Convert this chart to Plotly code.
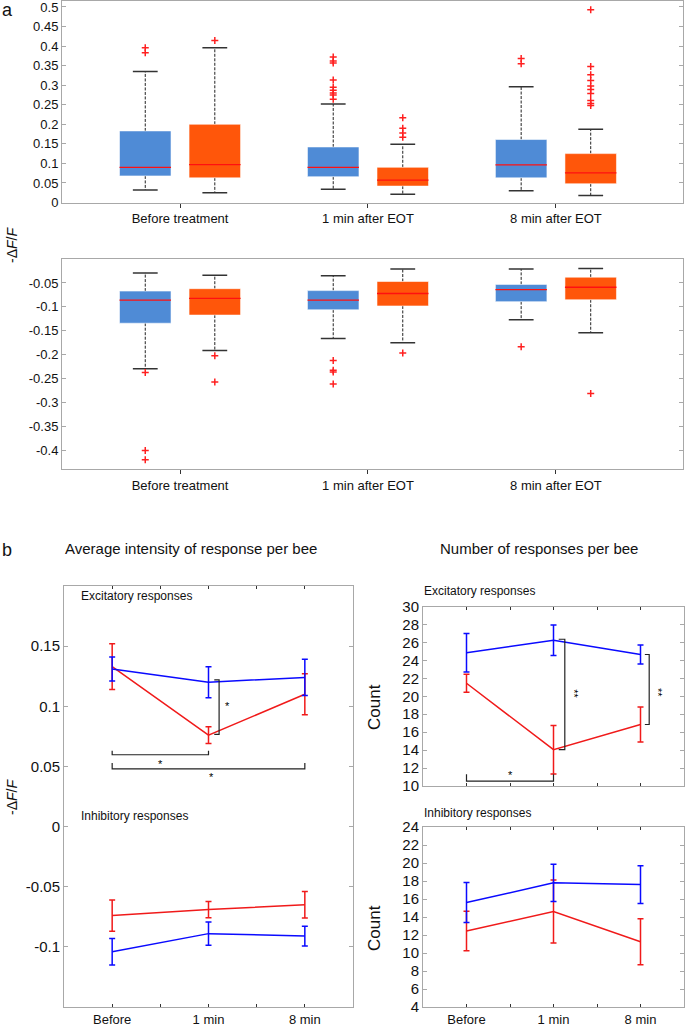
import plotly.graph_objects as go

W, H = 685, 1026

# ---------------- data: panel a (box plots) ----------------
categories_a = ["Before treatment", "1 min after EOT", "8 min after EOT"]

# excitatory (upper box panel)
exc_blue_low = [0.032, 0.034, 0.030]
exc_blue_q1 = [0.068, 0.066, 0.063]
exc_blue_med = [0.090, 0.090, 0.096]
exc_blue_q3 = [0.183, 0.142, 0.161]
exc_blue_up = [0.335, 0.252, 0.296]
exc_blue_out = [[0.396, 0.383],
                [0.372, 0.362, 0.357, 0.313, 0.295, 0.287, 0.280, 0.275, 0.264],
                [0.368, 0.355]]

exc_orng_low = [0.025, 0.021, 0.018]
exc_orng_q1 = [0.063, 0.042, 0.048]
exc_orng_med = [0.097, 0.057, 0.076]
exc_orng_q3 = [0.200, 0.090, 0.125]
exc_orng_up = [0.396, 0.149, 0.187]
exc_orng_out = [[0.414],
                [0.217, 0.190, 0.178, 0.167],
                [0.493, 0.348, 0.327, 0.312, 0.298, 0.289, 0.279, 0.261, 0.253, 0.248]]

# inhibitory (lower box panel)
inh_blue_low = [-0.229, -0.166, -0.127]
inh_blue_q1 = [-0.134, -0.106, -0.089]
inh_blue_med = [-0.086, -0.086, -0.064]
inh_blue_q3 = [-0.067, -0.066, -0.053]
inh_blue_up = [-0.029, -0.035, -0.021]
inh_blue_out = [[-0.237, -0.400, -0.419],
                [-0.212, -0.232, -0.236, -0.261],
                [-0.183]]

inh_orng_low = [-0.191, -0.175, -0.154]
inh_orng_q1 = [-0.117, -0.098, -0.085]
inh_orng_med = [-0.082, -0.072, -0.059]
inh_orng_q3 = [-0.062, -0.047, -0.038]
inh_orng_up = [-0.034, -0.021, -0.020]
inh_orng_out = [[-0.202, -0.257],
                [-0.196],
                [-0.281]]

# ---------------- data: panel b ----------------
time_labels = ["Before", "1 min", "8 min"]

int_exc_blue = [0.131, 0.120, 0.124]
int_exc_blue_err = [0.010, 0.0128, 0.015]
int_exc_red = [0.133, 0.076, 0.110]
int_exc_red_err = [0.019, 0.007, 0.017]
int_inh_blue = [-0.104, -0.089, -0.091]
int_inh_blue_err = [0.011, 0.0097, 0.0082]
int_inh_red = [-0.074, -0.069, -0.065]
int_inh_red_err = [0.013, 0.0068, 0.011]

cnt_exc_blue = [24.85, 26.25, 24.65]
cnt_exc_blue_err = [2.15, 1.7, 1.05]
cnt_exc_red = [21.45, 14.05, 16.85]
cnt_exc_red_err = [1.0, 2.7, 1.95]
cnt_inh_blue = [15.6, 17.8, 17.6]
cnt_inh_blue_err = [2.22, 2.07, 2.1]
cnt_inh_red = [12.45, 14.6, 11.25]
cnt_inh_red_err = [2.2, 3.5, 2.55]

# significance brackets (x, y in data units of their panels)
brk_int = [([2.06, 2.11, 2.11, 2.06], [0.122, 0.122, 0.0767, 0.0767]),
           ([1, 1, 2, 2], [0.063, 0.0597, 0.0597, 0.063]),
           ([1, 1, 3, 3], [0.0528, 0.048, 0.048, 0.0528])]
star_int = [(2.2, 0.1), (1.5, 0.052), (2.03, 0.041)]
brk_cnt = [([2.06, 2.13, 2.13, 2.06], [26.35, 26.35, 14.05, 14.05]),
           ([3.05, 3.1, 3.1, 3.05], [24.65, 24.65, 16.85, 16.85]),
           ([1, 1, 2, 2], [11.3, 10.55, 10.55, 11.3])]
star_cnt = [(2.24, 20.3, "**", 90), (3.21, 20.4, "**", 90), (1.5, 11.25, "*", 0)]

# ---------------- styles ----------------
BLUE_BOX = "#4f8bd6"
ORNG_BOX = "#ff560a"
LINE_BLUE = "#0a0aff"
LINE_RED = "#f01a1a"
AXC = "#a8a8a8"
FONT = "Liberation Sans, Arial, sans-serif"

fig = go.Figure()


def add_boxes(xa, ya, offs, low, q1, med, q3, up, outs, color):
    hw = 0.137
    cw = 0.066
    for i in range(len(med)):
        xc = i + 1 + offs
        # whiskers (dashed)
        fig.add_trace(go.Scatter(x=[xc, xc, None, xc, xc], y=[q3[i], up[i], None, q1[i], low[i]],
                                 mode="lines", line=dict(color="#222", width=1, dash="3px,1.5px"),
                                 xaxis=xa, yaxis=ya, hoverinfo="skip", showlegend=False))
        # caps
        fig.add_trace(go.Scatter(x=[xc - cw, xc + cw, None, xc - cw, xc + cw],
                                 y=[up[i], up[i], None, low[i], low[i]],
                                 mode="lines", line=dict(color="#333", width=1.5),
                                 xaxis=xa, yaxis=ya, hoverinfo="skip", showlegend=False))
        # box
        fig.add_trace(go.Scatter(x=[xc - hw, xc + hw, xc + hw, xc - hw, xc - hw],
                                 y=[q1[i], q1[i], q3[i], q3[i], q1[i]],
                                 mode="lines", fill="toself", fillcolor=color,
                                 line=dict(color="rgba(255,255,255,0.55)", width=1),
                                 xaxis=xa, yaxis=ya, hoverinfo="skip", showlegend=False))
        # median
        fig.add_trace(go.Scatter(x=[xc - hw, xc + hw], y=[med[i], med[i]],
                                 mode="lines", line=dict(color="#ff1010", width=1.3),
                                 xaxis=xa, yaxis=ya, hoverinfo="skip", showlegend=False))
        # outliers
        if outs[i]:
            fig.add_trace(go.Scatter(x=[xc] * len(outs[i]), y=outs[i], mode="markers",
                                     marker=dict(symbol="cross-thin", size=5,
                                                 line=dict(color="#ff2020", width=1.5)),
                                     xaxis=xa, yaxis=ya, hoverinfo="skip", showlegend=False))


add_boxes("x", "y", -0.185, exc_blue_low, exc_blue_q1, exc_blue_med, exc_blue_q3, exc_blue_up, exc_blue_out, BLUE_BOX)
add_boxes("x", "y", 0.185, exc_orng_low, exc_orng_q1, exc_orng_med, exc_orng_q3, exc_orng_up, exc_orng_out, ORNG_BOX)
add_boxes("x2", "y2", -0.185, inh_blue_low, inh_blue_q1, inh_blue_med, inh_blue_q3, inh_blue_up, inh_blue_out, BLUE_BOX)
add_boxes("x2", "y2", 0.185, inh_orng_low, inh_orng_q1, inh_orng_med, inh_orng_q3, inh_orng_up, inh_orng_out, ORNG_BOX)


def add_line(xa, ya, vals, errs, color):
    fig.add_trace(go.Scatter(x=[1, 2, 3], y=vals, mode="lines",
                             line=dict(color=color, width=1.5),
                             error_y=dict(type="data", array=errs, color=color, thickness=1.5, width=3),
                             xaxis=xa, yaxis=ya, hoverinfo="skip", showlegend=False))


add_line("x3", "y3", int_exc_red, int_exc_red_err, LINE_RED)
add_line("x3", "y3", int_exc_blue, int_exc_blue_err, LINE_BLUE)
add_line("x3", "y3", int_inh_red, int_inh_red_err, LINE_RED)
add_line("x3", "y3", int_inh_blue, int_inh_blue_err, LINE_BLUE)
add_line("x4", "y4", cnt_exc_red, cnt_exc_red_err, LINE_RED)
add_line("x4", "y4", cnt_exc_blue, cnt_exc_blue_err, LINE_BLUE)
add_line("x5", "y5", cnt_inh_red, cnt_inh_red_err, LINE_RED)
add_line("x5", "y5", cnt_inh_blue, cnt_inh_blue_err, LINE_BLUE)

for bx, by in brk_int:
    fig.add_trace(go.Scatter(x=bx, y=by, mode="lines", line=dict(color="#222", width=1.2),
                             xaxis="x3", yaxis="y3", hoverinfo="skip", showlegend=False))
for bx, by in brk_cnt:
    fig.add_trace(go.Scatter(x=bx, y=by, mode="lines", line=dict(color="#222", width=1.2),
                             xaxis="x4", yaxis="y4", hoverinfo="skip", showlegend=False))

annotations = []
for sx, sy in star_int:
    annotations.append(dict(x=sx, y=sy, xref="x3", yref="y3", text="*", showarrow=False,
                            font=dict(size=11, color="#000000", family=FONT)))
for sx, sy, st, ang in star_cnt:
    annotations.append(dict(x=sx, y=sy, xref="x4", yref="y4", text=st, showarrow=False,
                            textangle=ang, font=dict(size=11, color="#000000", family=FONT)))


def px(x):
    return x / W


def py(y):
    return 1 - y / H


def txt(x, y, s, size, xanchor="center", angle=0):
    annotations.append(dict(x=px(x), y=py(y), xref="paper", yref="paper", text=s,
                            showarrow=False, xanchor=xanchor, yanchor="middle",
                            textangle=angle, font=dict(size=size, color="#111", family=FONT)))


txt(0, 10, "a", 18, "left")
txt(0, 550, "b", 18, "left")
txt(12, 245, "-Δ<i>F</i>/<i>F</i>", 14, angle=-90)
txt(12, 797, "-Δ<i>F</i>/<i>F</i>", 14, angle=-90)
txt(191, 548, "Average intensity of response per bee", 15)
txt(539, 548, "Number of responses per bee", 15)
txt(79, 596, "Excitatory responses", 12, "left")
txt(79, 816, "Inhibitory responses", 12, "left")
txt(422, 591, "Excitatory responses", 12, "left")
txt(422, 813, "Inhibitory responses", 12, "left")
txt(374, 707, "Count", 17, angle=-90)
txt(374, 928, "Count", 17, angle=-90)


def yax(dom, rng, vals, texts, size):
    return dict(domain=dom, range=rng, tickvals=vals, ticktext=texts, showline=True, linecolor=AXC,
                linewidth=1, mirror="ticks", ticks="inside", ticklen=4, tickcolor=AXC,
                showgrid=False, zeroline=False, automargin=False, ticklabeloverflow="allow",
                tickfont=dict(size=size, color="#111", family=FONT))


def xax(dom, rng, vals, texts, anchor, size, ticks="outside", ticklen=4, mirror=True):
    return dict(domain=dom, range=rng, tickvals=vals, ticktext=texts, showline=True, linecolor=AXC,
                linewidth=1, mirror=mirror, ticks=ticks, ticklen=ticklen, tickcolor="#333",
                showgrid=False, zeroline=False, anchor=anchor, automargin=False,
                ticklabeloverflow="allow",
                tickfont=dict(size=size, color="#111", family=FONT))


top_vals = [0, 0.05, 0.1, 0.15, 0.2, 0.25, 0.3, 0.35, 0.4, 0.45, 0.5]
top_text = ["0", "0.05", "0.1", "0.15", "0.2", "0.25", "0.3", "0.35", "0.4", "0.45", "0.5"]
bot_vals = [-0.4, -0.35, -0.3, -0.25, -0.2, -0.15, -0.1, -0.05]
bot_text = ["-0.4", "-0.35", "-0.3", "-0.25", "-0.2", "-0.15", "-0.1", "-0.05"]
int_vals = [-0.1, -0.05, 0, 0.05, 0.1, 0.15]
int_text = ["-0.1", "-0.05", "0", "0.05", "0.1", "0.15"]
cnt_exc_vals = list(range(10, 31, 2))
cnt_inh_vals = list(range(4, 25, 2))

xa_dom = [px(62), px(683)]
xb_dom1 = [px(64), px(353)]
xb_dom2 = [px(423), px(684)]
half_ticks = [1, 1.5, 2, 2.5, 3]

fig.update_layout(
    width=W, height=H, margin=dict(l=0, r=0, t=0, b=0, autoexpand=False),
    paper_bgcolor="white", plot_bgcolor="white", showlegend=False,
    xaxis=xax(xa_dom, [0.372, 3.676], [1, 2, 3], categories_a, "y", 13),
    yaxis=yax([py(202.5), py(0.8)], [0, 0.5158], top_vals, top_text, 13),
    xaxis2=xax(xa_dom, [0.372, 3.676], [1, 2, 3], categories_a, "y2", 13),
    yaxis2=yax([py(469.3), py(259)], [-0.439, 0.0], bot_vals, bot_text, 13),
    xaxis3=xax(xb_dom1, [0.5, 3.5], half_ticks, ["Before", "", "1 min", "", "8 min"], "y3", 13,
               ticks="inside", ticklen=3, mirror="ticks"),
    yaxis3=yax([py(1007), py(586)], [-0.15, 0.2], int_vals, int_text, 15),
    xaxis4=xax(xb_dom2, [0.5, 3.5], half_ticks, ["", "", "", "", ""], "y4", 13,
               ticks="inside", ticklen=3, mirror="ticks"),
    yaxis4=yax([py(786), py(606.5)], [10, 30], cnt_exc_vals, [str(v) for v in cnt_exc_vals], 15),
    xaxis5=xax(xb_dom2, [0.5, 3.5], half_ticks, ["Before", "", "1 min", "", "8 min"], "y5", 13,
               ticks="inside", ticklen=3, mirror="ticks"),
    yaxis5=yax([py(1007), py(827)], [4, 24], cnt_inh_vals, [str(v) for v in cnt_inh_vals], 15),
    annotations=annotations,
)
fig.layout.yaxis.anchor = "x"
fig.layout.yaxis2.anchor = "x2"
fig.layout.yaxis3.anchor = "x3"
fig.layout.yaxis4.anchor = "x4"
fig.layout.yaxis5.anchor = "x5"

fig.write_html("out.html", config={"displayModeBar": False},
               post_script="document.body.style.margin='0px';")
